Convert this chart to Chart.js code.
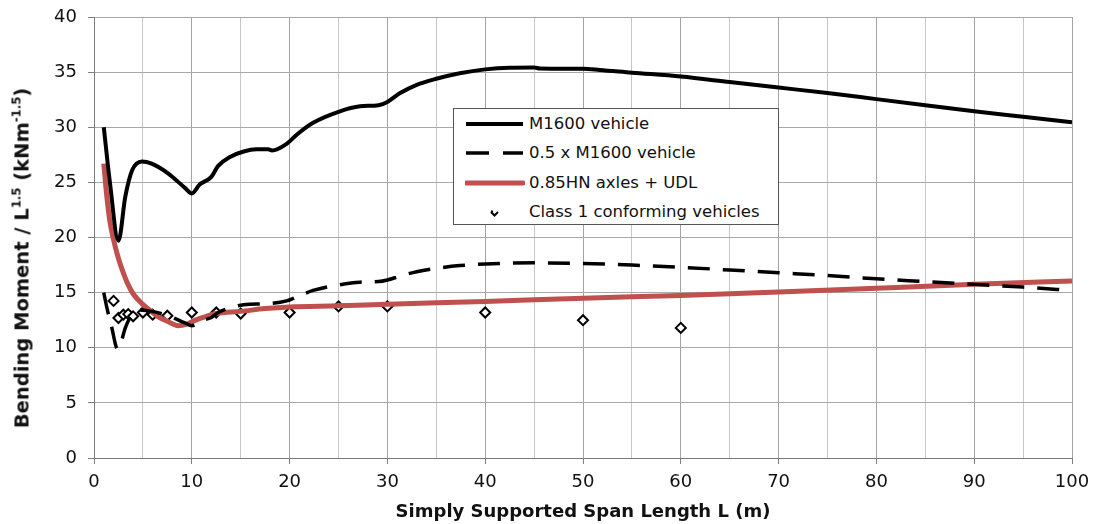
<!DOCTYPE html>
<html>
<head>
<meta charset="utf-8">
<script src="https://cdn.jsdelivr.net/npm/chart.js@4/dist/chart.umd.min.js"></script>
<style>
  html, body { margin: 0; padding: 0; background: #fff; }
  #wrap { position: relative; width: 1093px; height: 524px; font-family: 'DejaVu Sans', sans-serif; }
  #ytitle {
    position: absolute; left: 22px; top: 258px;
    transform: translate(-50%, -50%) rotate(-90deg);
    white-space: nowrap; font: bold 19.5px 'DejaVu Sans', sans-serif; color: #111;
  }
  #ytitle sup { font-size: 0.6em; vertical-align: 0.7em; line-height: 0; }
  #legend {
    position: absolute; left: 453px; top: 108px; width: 326px; height: 117px;
    border: 1px solid #555; background: #fff; box-sizing: border-box;
    font: 16.5px 'DejaVu Sans', sans-serif; color: #111;
  }
  .row { position: absolute; left: 0; height: 24px; width: 100%; }
  .row svg { position: absolute; left: 11px; top: 0; }
  .row span { position: absolute; left: 75px; top: 2px; white-space: nowrap; }
</style>
</head>
<body>
<div id="wrap">
  <canvas id="c" width="1093" height="524"></canvas>
  <div id="ytitle">Bending Moment / L<sup>1.5</sup> (kNm<sup>-1.5</sup>)</div>
  <div id="legend">
    <div class="row" style="top:3px"><svg width="60" height="24"><line x1="1" y1="12" x2="58" y2="12" stroke="#000" stroke-width="4"/></svg><span>M1600 vehicle</span></div>
    <div class="row" style="top:32px"><svg width="60" height="24"><line x1="1" y1="12" x2="58" y2="12" stroke="#000" stroke-width="3.5" stroke-dasharray="23 14"/></svg><span>0.5 x M1600 vehicle</span></div>
    <div class="row" style="top:62px"><svg width="60" height="24"><line x1="1" y1="12" x2="58" y2="12" stroke="#C0504D" stroke-width="5" stroke-linecap="round"/></svg><span>0.85HN axles + UDL</span></div>
    <div class="row" style="top:91px"><svg width="60" height="24"><polyline points="26,12 29.5,15.5 33,12" fill="none" stroke="#000" stroke-width="2"/><line x1="26.5" y1="12.5" x2="27.5" y2="10.5" stroke="#000" stroke-width="2"/></svg><span>Class 1 conforming vehicles</span></div>
  </div>
</div>
<script>
// Span lengths (m) and bending moment / L^1.5 values for each load model
const m1600Span = [1, 1.6, 2.5, 3.2, 3.9, 4.9, 5.9, 7.6, 9.3, 10, 10.8, 12, 12.7, 13.9, 15.3, 16.6, 17.8, 18.2, 19.7, 20.7, 22.4, 25, 27.2, 29.1, 30, 31.3, 33, 35, 37.4, 40, 42.5, 45, 45.6, 48.3, 50, 51.7, 55, 60, 65, 70, 75, 80, 85, 90, 95, 100];
const m1600Value = [30.0, 25.2, 19.7, 23.7, 26.1, 26.9, 26.7, 25.8, 24.5, 24.0, 24.8, 25.5, 26.5, 27.3, 27.8, 28.0, 28.0, 27.9, 28.5, 29.3, 30.4, 31.4, 31.9, 32.0, 32.3, 33.1, 33.85, 34.4, 34.9, 35.25, 35.4, 35.42, 35.32, 35.3, 35.3, 35.2, 34.95, 34.6, 34.1, 33.6, 33.1, 32.55, 32.0, 31.45, 30.95, 30.45];

const halfM1600Span = [1, 1.3, 1.8, 2.4, 2.8, 3.2, 3.9, 4.9, 5.9, 7.6, 9.3, 10, 10.8, 12, 12.7, 13.9, 15.3, 17.8, 19.7, 20.7, 22.4, 25, 27.2, 29.1, 30, 31.3, 33, 35, 37.4, 40, 45, 50, 55, 60, 65, 70, 75, 80, 85, 90, 95, 100];
const halfM1600Value = [15.0, 13.7, 11.9, 9.9, 10.6, 11.8, 13.0, 13.4, 13.3, 12.9, 12.25, 12.0, 12.4, 12.75, 13.2, 13.6, 13.9, 14.0, 14.25, 14.6, 15.2, 15.7, 15.95, 16.0, 16.15, 16.5, 16.9, 17.2, 17.45, 17.6, 17.7, 17.65, 17.5, 17.3, 17.05, 16.8, 16.55, 16.25, 16.0, 15.75, 15.5, 15.2];

const hnSpan = [1, 1.3, 1.6, 2, 2.5, 3, 3.5, 4, 4.9, 5.5, 6.5, 7.5, 8.6, 9.5, 10.5, 11.5, 12.5, 15, 17.5, 20, 25, 30, 40, 50, 60, 70, 80, 90, 100];
const hnValue = [26.7, 23.8, 21.6, 19.8, 18.1, 16.8, 15.7, 14.9, 14.0, 13.55, 12.85, 12.4, 12.0, 12.15, 12.55, 12.85, 13.1, 13.3, 13.55, 13.7, 13.8, 13.95, 14.2, 14.5, 14.75, 15.05, 15.4, 15.75, 16.05];

const class1Span = [2, 2.5, 3, 3.5, 4, 5, 6, 7.5, 10, 12.5, 15, 20, 25, 30, 40, 50, 60];
const class1Value = [14.25, 12.7, 13.0, 13.05, 12.85, 13.2, 13.0, 12.9, 13.2, 13.2, 13.1, 13.2, 13.75, 13.75, 13.2, 12.5, 11.8];

const xTicks = { min: 0, max: 100, step: 5, labelStep: 10 };
const yTicks = { min: 0, max: 40, step: 5 };

const pairs = (xs, ys) => xs.map((x, i) => ({ x, y: ys[i] }));

const tickFont = { family: 'DejaVu Sans', size: 18 };

new Chart(document.getElementById('c'), {
  type: 'line',
  data: {
    datasets: [
      {
        label: 'M1600 vehicle',
        data: pairs(m1600Span, m1600Value),
        borderColor: '#000', borderWidth: 4, pointRadius: 0,
        cubicInterpolationMode: 'monotone', order: 0
      },
      {
        label: '0.5 x M1600 vehicle',
        data: pairs(halfM1600Span, halfM1600Value),
        borderColor: '#000', borderWidth: 3.5, borderDash: [22, 13], pointRadius: 0,
        cubicInterpolationMode: 'monotone', order: 1
      },
      {
        label: '0.85HN axles + UDL',
        data: pairs(hnSpan, hnValue),
        borderColor: '#C0504D', borderWidth: 5, pointRadius: 0,
        cubicInterpolationMode: 'monotone', order: 2
      },
      {
        label: 'Class 1 conforming vehicles',
        data: pairs(class1Span, class1Value),
        showLine: false, pointStyle: 'rectRot', pointRadius: 5,
        pointBackgroundColor: '#fff', pointBorderColor: '#000', pointBorderWidth: 2,
        order: 3
      }
    ]
  },
  options: {
    responsive: false,
    animation: false,
    devicePixelRatio: 1,
    layout: { padding: { top: 17, right: 21, left: 0, bottom: 0 } },
    plugins: { legend: { display: false }, tooltip: { enabled: false } },
    scales: {
      x: {
        type: 'linear', min: xTicks.min, max: xTicks.max,
        afterFit: (s) => { s.height = 66; s.paddingLeft = 0; s.paddingRight = 0; },
        ticks: {
          stepSize: xTicks.step, autoSkip: false, maxRotation: 0,
          font: tickFont, color: '#111', padding: 8,
          callback: (v) => (v % xTicks.labelStep === 0 ? v : '')
        },
        grid: {
          color: (ctx) => (ctx.tick && ctx.tick.value % xTicks.labelStep === 0 ? '#a4a4a4' : '#c6c6c6'),
          tickColor: (ctx) => (ctx.tick && ctx.tick.value % xTicks.labelStep === 0 ? '#808080' : 'rgba(0,0,0,0)'),
          tickLength: 6, lineWidth: 1
        },
        border: { color: '#7a7a7a', width: 1 },
        title: {
          display: true, text: 'Simply Supported Span Length L (m)',
          font: { family: 'DejaVu Sans', size: 18, weight: 'bold' }, color: '#111',
          padding: { top: 0, bottom: 1 }
        }
      },
      y: {
        type: 'linear', min: yTicks.min, max: yTicks.max,
        afterFit: (s) => { s.width = 94; s.paddingTop = 0; s.paddingBottom = 0; },
        ticks: { stepSize: yTicks.step, font: tickFont, color: '#111', padding: 11 },
        grid: { color: '#a8a8a8', tickColor: '#808080', tickLength: 6, lineWidth: 1 },
        border: { color: '#7a7a7a', width: 1 }
      }
    }
  }
});
</script>
</body>
</html>
